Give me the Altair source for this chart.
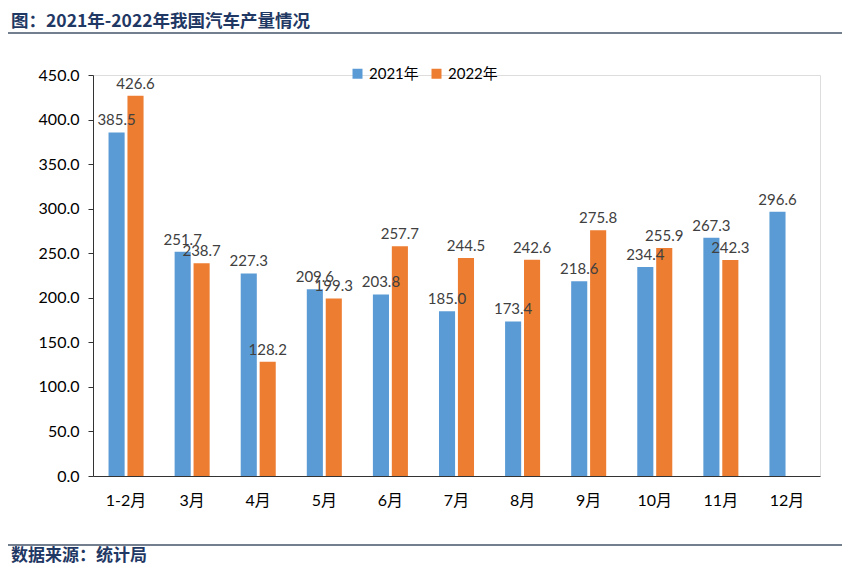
import altair as alt
import pandas as pd

months = ["1-2月", "3月", "4月", "5月", "6月", "7月", "8月", "9月", "10月", "11月", "12月"]
v2021 = [385.5, 251.7, 227.3, 209.6, 203.8, 185.0, 173.4, 218.6, 234.4, 267.3, 296.6]
v2022 = [426.6, 238.7, 128.2, 199.3, 257.7, 244.5, 242.6, 275.8, 255.9, 242.3, None]
series = ["2021年", "2022年"]
colors = ["#5B9BD5", "#ED7D31"]

rows = []
for m, a, b in zip(months, v2021, v2022):
    rows.append({"month": m, "year": series[0], "value": a})
    if b is not None:
        rows.append({"month": m, "year": series[1], "value": b})
df = pd.DataFrame(rows)

FONT = "Lato, Noto Sans CJK SC"

x = alt.X("month:N", sort=months, title=None,
          scale=alt.Scale(paddingInner=0.47, paddingOuter=0.235),
          axis=alt.Axis(labelAngle=0, ticks=False, labelFontSize=16, labelFont=FONT,
                        labelColor="#000000", labelPadding=16, domainColor="#333333",
                        domainWidth=1))
xo = alt.XOffset("year:N", sort=series, scale=alt.Scale(paddingInner=0.15))
y = alt.Y("value:Q", title=None,
          scale=alt.Scale(domain=[0, 450], nice=False),
          axis=alt.Axis(values=list(range(0, 451, 50)), format=".1f", grid=False,
                        tickSize=5, tickColor="#333333", domainColor="#333333",
                        labelFontSize=16, labelFont=FONT, labelColor="#000000",
                        labelPadding=9))
color = alt.Color("year:N", sort=series,
                  scale=alt.Scale(domain=series, range=colors),
                  legend=alt.Legend(title=None, orient="none", direction="horizontal",
                                    legendX=257, legendY=-9, symbolType="square",
                                    symbolSize=100, symbolStrokeWidth=0,
                                    labelFontSize=15, labelFont=FONT,
                                    labelColor="#000000", columnPadding=10,
                                    symbolOpacity=1))

base = alt.Chart(df)
bars = base.mark_bar(opacity=1).encode(x=x, xOffset=xo, y=y, color=color)
labels = base.mark_text(dy=-12, fontSize=15, font=FONT, color="#404040").encode(
    x=x, xOffset=xo, y=y, text=alt.Text("value:Q", format=".1f"))

title_df = pd.DataFrame({"t": ["图：2021年-2022年我国汽车产量情况"]})
title = alt.Chart(title_df).mark_text(align="left", baseline="middle", fontSize=17.5,
                                      fontWeight="bold", font="Noto Sans CJK SC",
                                      color="#1F3864").encode(
    x=alt.value(-82), y=alt.value(-53), text="t:N")
foot_df = pd.DataFrame({"t": ["数据来源：统计局"]})
foot = alt.Chart(foot_df).mark_text(align="left", baseline="middle", fontSize=17,
                                    fontWeight="bold", font="Noto Sans CJK SC",
                                    color="#1F3864").encode(
    x=alt.value(-82), y=alt.value(481), text="t:N")
line1 = alt.Chart(title_df).mark_rule(color="#44546A", strokeWidth=1.5).encode(
    x=alt.value(-93), x2=alt.value(760), y=alt.value(-42))
line2 = alt.Chart(foot_df).mark_rule(color="#44546A", strokeWidth=1.5).encode(
    x=alt.value(-93), x2=alt.value(760), y=alt.value(470))

chart = alt.layer(bars, labels, title, foot, line1, line2).properties(
    width=727, height=401,
    autosize=alt.AutoSizeParams(type="none"),
    padding={"left": 85, "top": 67, "right": 22, "bottom": 90},
).configure_view(stroke=None).configure(background="white")

chart.save("out.html", embed_options={"renderer": "svg", "actions": False})
